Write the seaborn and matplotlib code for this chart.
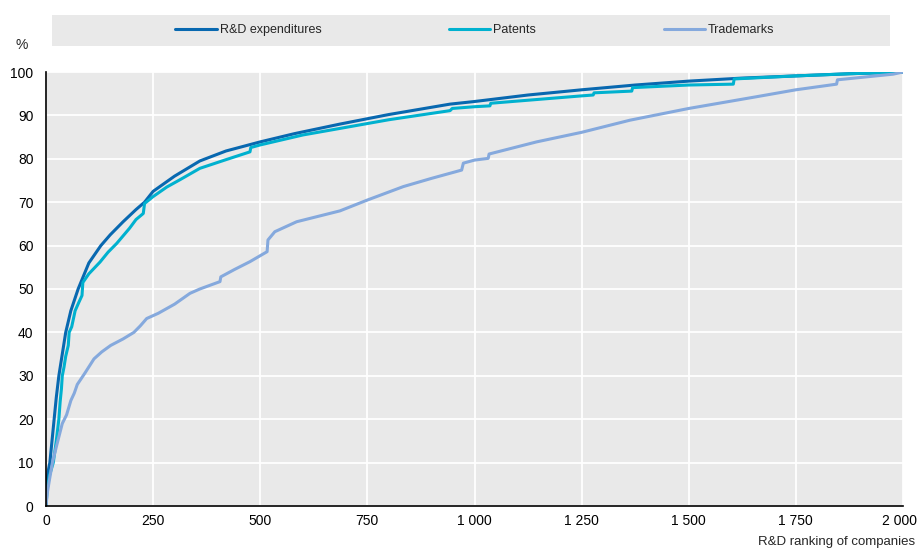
import pandas as pd
import matplotlib.pyplot as plt
import matplotlib.transforms as mtransforms
import seaborn as sns
from matplotlib.patches import Rectangle

# cumulative shares (%) by R&D ranking of companies
rd_rank = [0, 1, 3, 5, 9, 14, 19, 24, 30, 38, 46, 58, 75, 100, 128, 150, 180, 210,
           230, 250, 300, 359, 420, 500, 580, 686, 800, 943, 1000, 1125, 1250, 1375,
           1500, 1625, 1750, 1875, 2000]
rd_share = [0, 3, 6, 8, 10, 15, 20, 25, 30, 35, 40, 45, 50, 56, 60, 62.5, 65.5, 68.3,
            70, 72.5, 76, 79.5, 81.8, 83.9, 85.8, 88.0, 90.2, 92.6, 93.2, 94.7, 95.9,
            97, 97.9, 98.6, 99.1, 99.6, 100]

pat_rank = [0, 3, 8, 17, 24, 30, 33, 36, 38, 42, 46, 52, 54, 60, 68, 77, 84, 86, 100,
            126, 145, 165, 195, 210, 227, 230, 250, 282, 313, 359, 420, 476, 478,
            500, 600, 686, 800, 943, 948, 1000, 1036, 1038, 1250, 1277, 1279, 1367,
            1369, 1500, 1604, 1606, 1750, 1875, 2000]
pat_share = [0, 4, 7, 10, 15, 20, 24, 27, 30, 32, 34.5, 37, 40, 41.3, 45, 47, 48.5,
             51.5, 53.5, 56.2, 58.5, 60.5, 64, 66, 67.4, 69.7, 71.3, 73.5, 75.2, 77.8,
             79.8, 81.6, 82.6, 83.2, 85.5, 87.0, 89, 91.1, 91.6, 92.0, 92.2, 92.8,
             94.5, 94.7, 95.2, 95.6, 96.4, 97.0, 97.2, 98.4, 99.1, 99.6, 100]

tm_rank = [0, 3, 8, 15, 25, 38, 48, 58, 66, 73, 90, 112, 130, 151, 180, 205, 220, 235,
           262, 300, 336, 359, 406, 408, 440, 476, 516, 518, 534, 585, 686, 750, 834,
           900, 970, 974, 1000, 1032, 1034, 1145, 1250, 1363, 1500, 1658, 1750, 1845,
           1847, 1977, 2000]
tm_share = [0, 3, 6, 10, 14, 19, 21, 24.3, 26, 28, 30.5, 33.9, 35.5, 37, 38.5, 40,
            41.5, 43.2, 44.4, 46.5, 49, 50, 51.7, 52.8, 54.5, 56.3, 58.6, 61.3, 63.2,
            65.5, 68, 70.5, 73.6, 75.5, 77.4, 79, 79.7, 80.1, 81.1, 83.9, 86.1, 88.9,
            91.6, 94.3, 95.9, 97.2, 98.2, 99.5, 100]

series_names = ["R&D expenditures", "Patents", "Trademarks"]
colors = ["#0868B0", "#00B1CF", "#85A9DD"]
x_ticks = [0, 250, 500, 750, 1000, 1250, 1500, 1750, 2000]
x_tick_labels = ["0", "250", "500", "750", "1 000", "1 250", "1 500", "1 750", "2 000"]
y_ticks = [0, 10, 20, 30, 40, 50, 60, 70, 80, 90, 100]

df = pd.concat([
    pd.DataFrame({"rank": rd_rank, "share": rd_share, "series": series_names[0]}),
    pd.DataFrame({"rank": pat_rank, "share": pat_share, "series": series_names[1]}),
    pd.DataFrame({"rank": tm_rank, "share": tm_share, "series": series_names[2]}),
])

sns.set_style("darkgrid", {"axes.facecolor": "#E9E9E9", "grid.color": "white"})
plt.rcParams["font.family"] = ["Liberation Sans", "DejaVu Sans"]

fig = plt.figure(figsize=(9.19, 5.49), dpi=100)
ax = fig.add_axes([46 / 919, 1 - 506 / 549, 857 / 919, 434 / 549])

sns.lineplot(data=df, x="rank", y="share", hue="series", hue_order=series_names,
             palette=colors, estimator=None, sort=False, linewidth=2.2, ax=ax)

ax.set_xlim(0, 2000)
ax.set_ylim(0, 100)
ax.set_xticks(x_ticks)
ax.set_xticklabels(x_tick_labels)
ax.set_yticks(y_ticks)
ax.set_xlabel("")
ax.set_ylabel("")
ax.grid(True, color="white", linewidth=1.3)
for s in ["top", "right"]:
    ax.spines[s].set_visible(False)
for s in ["left", "bottom"]:
    ax.spines[s].set_visible(True)
    ax.spines[s].set_color("black")
    ax.spines[s].set_linewidth(1.2)
ax.tick_params(axis="both", direction="in", length=4, width=1.2, color="black",
               labelsize=10, labelcolor="black")
ax.tick_params(axis="y", pad=9)
ax.tick_params(axis="x", pad=6)
# last label: right edge near the figure border, as in the original
last = ax.get_xticklabels()[-1]
last.set_horizontalalignment("right")
last.set_transform(last.get_transform() +
                   mtransforms.ScaledTranslation(0.14, 0, fig.dpi_scale_trans))

handles, labels = ax.get_legend_handles_labels()
ax.get_legend().remove()

# grey legend band above the plot
fig.patches.append(Rectangle((52 / 919, 1 - 45.5 / 549), 838 / 919, 30.5 / 549,
                             transform=fig.transFigure, facecolor="#E9E9E9",
                             edgecolor="none", zorder=0))
fig.legend(handles, labels, ncol=3, loc="center", bbox_to_anchor=(475 / 919, 1 - 30 / 549),
           frameon=False, fontsize=9, handlelength=3.3, handletextpad=0.25,
           columnspacing=10.2, borderpad=0, borderaxespad=0)

fig.text(22 / 919, 1 - 45 / 549, "%", ha="center", va="center", fontsize=10)
fig.text(915 / 919, 1 - 542 / 549, "R&D ranking of companies", ha="right", va="center",
         fontsize=9.5)

fig.savefig("out.png", dpi=100)
